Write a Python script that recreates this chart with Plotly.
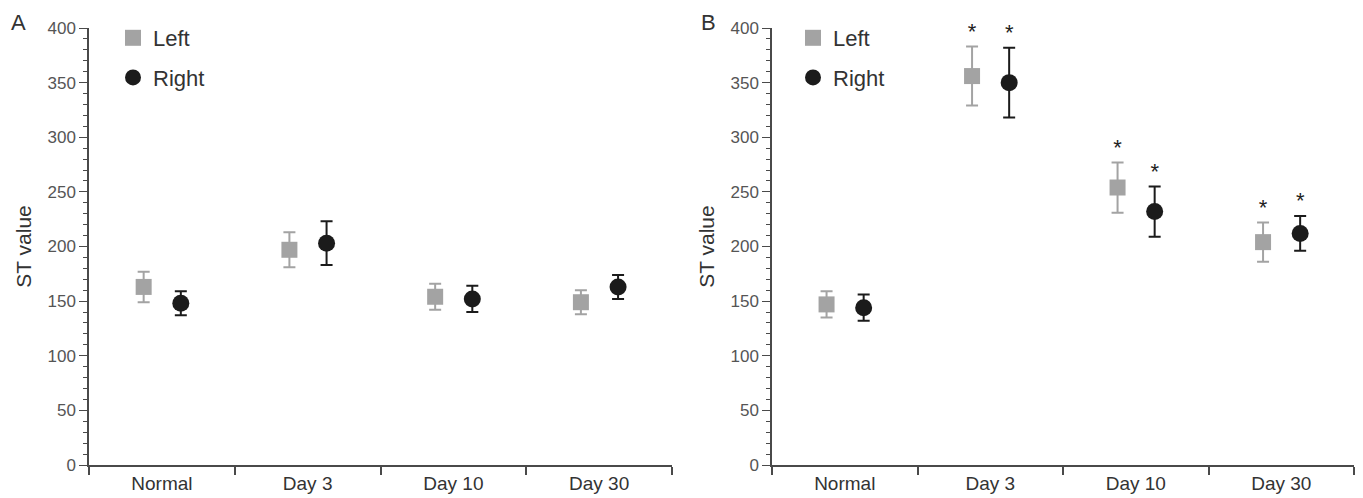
import plotly.graph_objects as go

categories = ["Normal", "Day 3", "Day 10", "Day 30"]

a_left = [163, 197, 154, 149]
a_left_err = [14, 16, 12, 11]
a_right = [148, 203, 152, 163]
a_right_err = [11, 20, 12, 11]

b_left = [147, 356, 254, 204]
b_left_err = [12, 27, 23, 18]
b_right = [144, 350, 232, 212]
b_right_err = [12, 32, 23, 16]

b_left_sig = [False, True, True, True]
b_right_sig = [False, True, True, True]

y_ticks = [0, 50, 100, 150, 200, 250, 300, 350, 400]

LEFT_C = "#a3a3a3"
RIGHT_C = "#1b1b1b"
AX_C = "#4a4a4a"
FONT = "Liberation Sans, Arial, sans-serif"

fig = go.Figure()

idx = list(range(len(categories)))
xl = [i - 0.125 for i in idx]
xr = [i + 0.13 for i in idx]


def add_panel(n, left, left_err, right, right_err, legend):
    xa = "x" if n == 1 else "x2"
    ya = "y" if n == 1 else "y2"
    fig.add_trace(go.Scatter(
        x=xl, y=left, mode="markers", name="Left", xaxis=xa, yaxis=ya,
        marker=dict(symbol="square", size=16, color=LEFT_C),
        error_y=dict(type="data", array=left_err, color=LEFT_C, thickness=2, width=6),
        legend=legend, legendgroup=legend + "L",
    ))
    fig.add_trace(go.Scatter(
        x=xr, y=right, mode="markers", name="Right", xaxis=xa, yaxis=ya,
        marker=dict(symbol="circle", size=17, color=RIGHT_C),
        error_y=dict(type="data", array=right_err, color=RIGHT_C, thickness=2, width=6),
        legend=legend, legendgroup=legend + "R",
    ))


add_panel(1, a_left, a_left_err, a_right, a_right_err, "legend")
add_panel(2, b_left, b_left_err, b_right, b_right_err, "legend2")

# significance stars (panel B)
sx, sy = [], []
for i in idx:
    if b_left_sig[i]:
        sx.append(xl[i]); sy.append(b_left[i] + b_left_err[i] + 12)
    if b_right_sig[i]:
        sx.append(xr[i]); sy.append(b_right[i] + b_right_err[i] + 12)
fig.add_trace(go.Scatter(
    x=sx, y=sy, mode="text", text=["*"] * len(sx), xaxis="x2", yaxis="y2",
    textposition="middle center", textfont=dict(size=22, color="#222", family=FONT),
    showlegend=False, hoverinfo="skip", cliponaxis=False,
))

# the page body adds an 8px margin, so the figure is 8px smaller on each side
W = 1355
H = 490
ydom = [33 / H, 470 / H]


def xaxis(dom, anchor):
    return dict(
        domain=dom, anchor=anchor, range=[-0.5, 3.5],
        tickvals=idx, ticktext=categories, ticks="",
        tickfont=dict(size=19, color="#333", family=FONT),
        showline=True, linecolor=AX_C, linewidth=1.5,
        showgrid=False, zeroline=False, automargin=False,
        minor=dict(tick0=-0.5, dtick=1, ticks="outside", ticklen=8,
                   tickcolor=AX_C, tickwidth=1.5, showgrid=False),
    )


def yaxis(anchor):
    return dict(
        domain=ydom, anchor=anchor, range=[0, 400],
        tickvals=y_ticks, ticks="outside", ticklen=8, tickcolor=AX_C, tickwidth=1.3,
        tickfont=dict(size=17, color="#555", family=FONT),
        showline=True, linecolor=AX_C, linewidth=1.5,
        showgrid=False, zeroline=False, automargin=False,
        minor=dict(dtick=10, ticks="outside", ticklen=4, tickcolor=AX_C,
                   tickwidth=1, showgrid=False),
        title=dict(text="ST value", font=dict(size=21, color="#333", family=FONT),
                   standoff=10),
    )


legend_style = dict(
    font=dict(size=22, color="#333", family=FONT),
    bgcolor="rgba(0,0,0,0)", tracegroupgap=8,
    xanchor="left", yanchor="top", itemsizing="trace",
)

fig.update_layout(
    width=W, height=H,
    margin=dict(l=0, r=0, t=0, b=0),
    paper_bgcolor="white", plot_bgcolor="white",
    font=dict(family=FONT),
    xaxis=xaxis([81 / W, 664 / W], "y"),
    yaxis=yaxis("x"),
    xaxis2=xaxis([764 / W, 1346 / W], "y2"),
    yaxis2=yaxis("x2"),
    legend=dict(x=105 / W, y=1 - 9 / H, **legend_style),
    legend2=dict(x=785 / W, y=1 - 9 / H, **legend_style),
    showlegend=True,
    annotations=[
        dict(text="A", x=1 / W, y=1, xref="paper", yref="paper",
             xanchor="left", yanchor="top", showarrow=False,
             font=dict(size=22, color="#333", family=FONT)),
        dict(text="B", x=691 / W, y=1, xref="paper", yref="paper",
             xanchor="left", yanchor="top", showarrow=False,
             font=dict(size=22, color="#333", family=FONT)),
    ],
)

fig.write_html("out.html")
